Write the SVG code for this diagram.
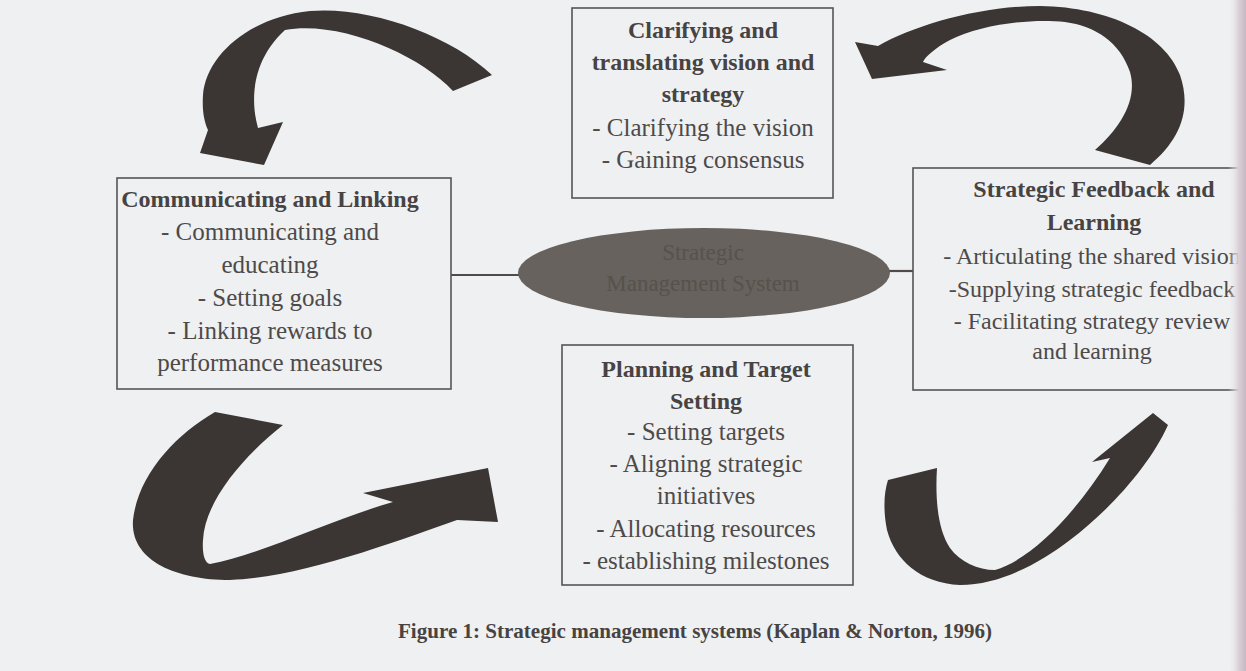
<svg xmlns="http://www.w3.org/2000/svg" width="1246" height="671" viewBox="0 0 1246 671">
  <defs>
    <style>
      .box { fill: none; stroke: #575454; stroke-width: 1.6; }
      .t { font-family: "Liberation Serif", "Times New Roman", serif; font-size: 25px; fill: #4d4a49; text-anchor: middle; }
      .b { font-weight: bold; font-size: 24px; fill: #474343; }
      .hubtext { fill: #56524c; font-size: 23px; }
      .arrow { fill: #3b3634; }
      .link { stroke: #4e4b4a; stroke-width: 2.2; fill: none; }
    </style>
    <linearGradient id="edgeShade" x1="0" y1="0" x2="1" y2="0">
      <stop offset="0" stop-color="#eef0f2" stop-opacity="0"/>
      <stop offset="0.6" stop-color="#d9cfd6"/>
      <stop offset="1" stop-color="#c7b9c3"/>
    </linearGradient>
  </defs>

  <!-- paper -->
  <rect x="0" y="0" width="1246" height="671" fill="#eef0f2"/>

  <!-- curved cycle arrows and hub links -->
  <g id="connectors">
    <!-- top-left: from Clarifying down to Communicating -->
    <path class="arrow" d="M 492,75 C 450,35 370,6 310,11 C 250,17 206,55 203,95 C 202,110 204,121 208,130 L 200,153 L 264,165 L 283,122 L 258,128 C 250,100 252,60 285,30 C 340,20 420,55 453,91 Z"/>
    <!-- top-right: from Strategic Feedback up to Clarifying -->
    <path class="arrow" d="M 855,42 L 878,46 C 915,25 980,6 1040,6 C 1110,7 1165,35 1180,75 C 1192,110 1180,140 1150,165 L 1095,150 C 1120,128 1138,100 1130,72 C 1120,42 1095,26 1065,22 C 1030,18 980,25 950,40 C 935,48 925,57 923,62 L 947,70 L 872,79 Z"/>
    <!-- bottom-left: from Communicating to Planning -->
    <path class="arrow" d="M 215,412 L 283,425 C 245,455 205,500 203,540 C 202,555 205,563 210,564 C 260,555 330,520 393,502 L 363,493 L 488,468 L 498,522 L 457,520 C 400,540 300,578 230,580 C 175,580 130,560 133,520 C 138,475 175,435 215,412 Z"/>
    <!-- bottom-right: from Planning up to Strategic Feedback -->
    <path class="arrow" d="M 888,480 L 937,468 C 935,500 938,530 950,548 C 960,562 978,570 995,570 C 1030,560 1075,515 1110,458 L 1092,462 L 1153,413 L 1168,425 C 1150,465 1110,510 1070,540 C 1040,563 1000,585 960,585 C 920,583 895,560 887,530 C 883,510 884,492 888,480 Z"/>
    <!-- hub links -->
    <line class="link" x1="451" y1="275" x2="520" y2="275"/>
    <line class="link" x1="888" y1="271" x2="913" y2="271"/>
  </g>

  <!-- hub -->
  <g id="hub">
    <ellipse cx="704" cy="273" rx="186" ry="45" fill="#67625d"/>
    <text class="t hubtext" x="703" y="260">Strategic</text>
    <text class="t hubtext" x="703" y="291">Management System</text>
  </g>

  <g id="clarifying">
    <rect class="box" x="572" y="8" width="261" height="190"/>
    <text class="t b" x="703" y="38">Clarifying and</text>
    <text class="t b" x="703" y="70">translating vision and</text>
    <text class="t b" x="703" y="102">strategy</text>
    <text class="t" x="703" y="136">- Clarifying the vision</text>
    <text class="t" x="703" y="168">- Gaining consensus</text>
  </g>

  <g id="communicating">
    <rect class="box" x="117" y="178" width="334" height="211"/>
    <text class="t b" x="270" y="207">Communicating and Linking</text>
    <text class="t" x="270" y="240">- Communicating and</text>
    <text class="t" x="270" y="273">educating</text>
    <text class="t" x="270" y="306">- Setting goals</text>
    <text class="t" x="270" y="339">- Linking rewards to</text>
    <text class="t" x="270" y="371">performance measures</text>
  </g>

  <g id="feedback">
    <rect class="box" x="913" y="168" width="360" height="222"/>
    <text class="t b" x="1094" y="197">Strategic Feedback and</text>
    <text class="t b" x="1094" y="230">Learning</text>
    <text class="t" x="1092" y="264" style="font-size:24px">- Articulating the shared vision</text>
    <text class="t" x="1092" y="297" style="font-size:24px">-Supplying strategic feedback</text>
    <text class="t" x="1092" y="329" style="font-size:24px">- Facilitating strategy review</text>
    <text class="t" x="1092" y="359" style="font-size:24px">and learning</text>
  </g>

  <g id="planning">
    <rect class="box" x="562" y="345" width="291" height="240"/>
    <text class="t b" x="706" y="377">Planning and Target</text>
    <text class="t b" x="706" y="409">Setting</text>
    <text class="t" x="706" y="440">- Setting targets</text>
    <text class="t" x="706" y="472">- Aligning strategic</text>
    <text class="t" x="706" y="504">initiatives</text>
    <text class="t" x="706" y="537">- Allocating resources</text>
    <text class="t" x="706" y="569">- establishing milestones</text>
  </g>

  <g id="caption">
    <text class="t b" x="695" y="638" style="font-size:21px" textLength="594" lengthAdjust="spacingAndGlyphs">Figure 1:  Strategic management systems (Kaplan &amp; Norton, 1996)</text>
  </g>

  <!-- shaded page edge at the binding -->
  <rect x="1228" y="0" width="18" height="671" fill="url(#edgeShade)"/>
</svg>
